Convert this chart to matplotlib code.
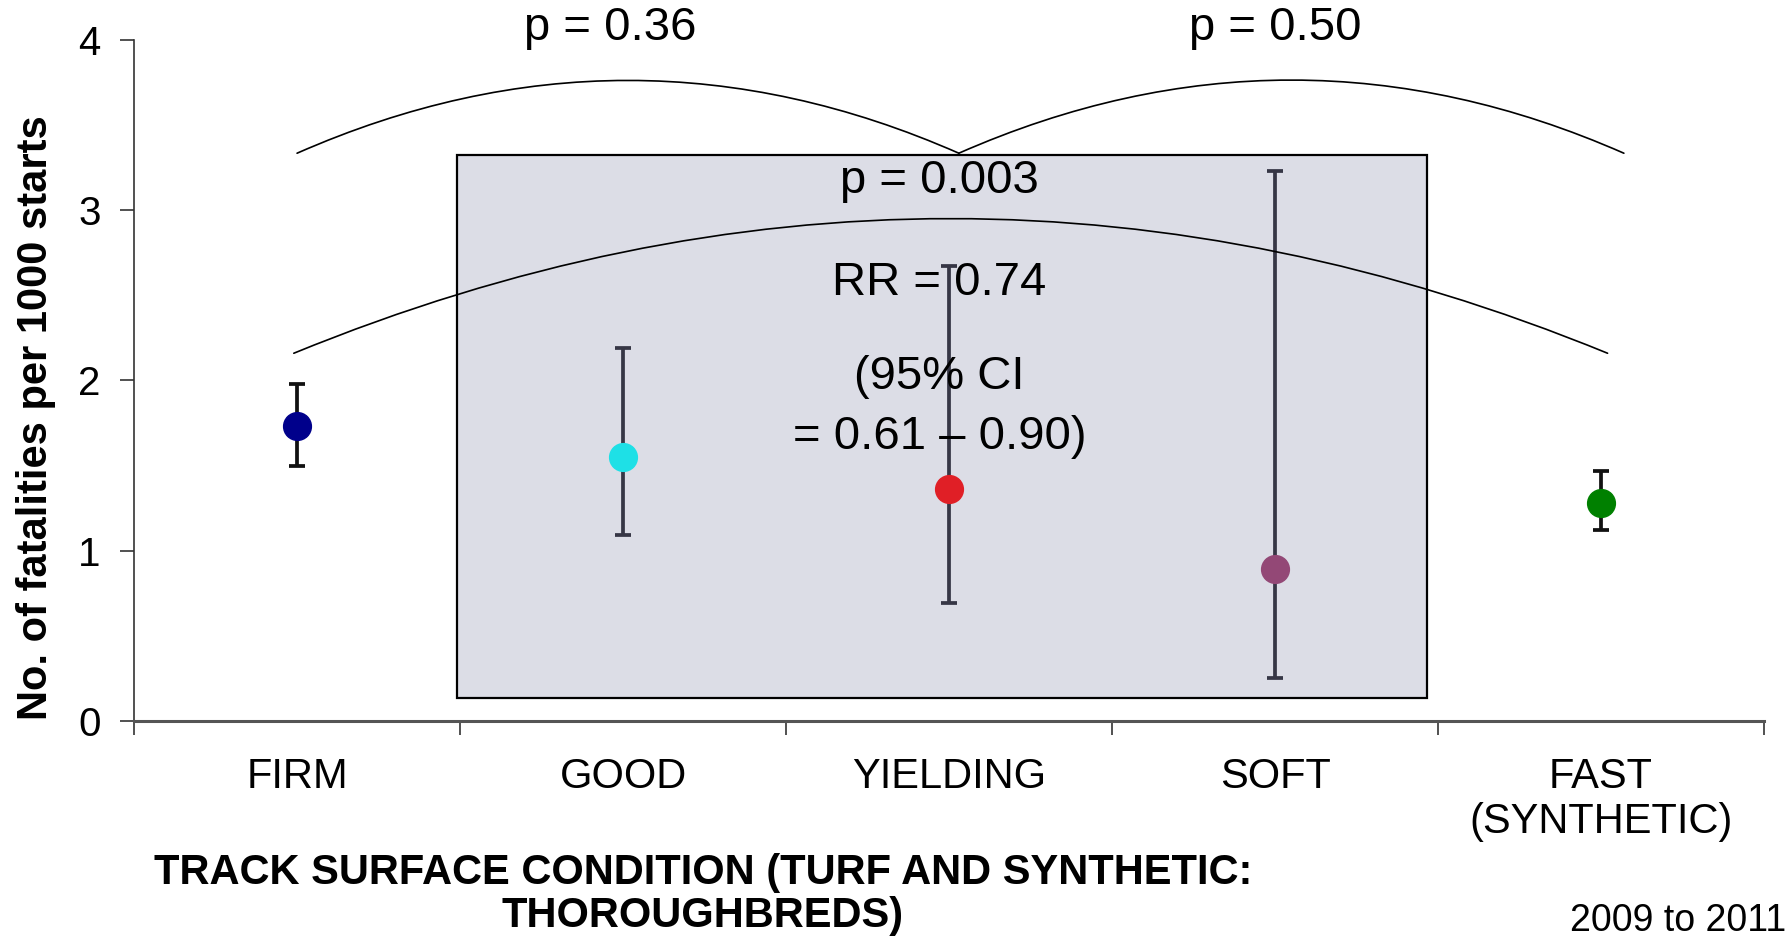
import numpy as np
import matplotlib
matplotlib.use("Agg")
import matplotlib.pyplot as plt
from matplotlib.patches import Rectangle

plt.rcParams['font.family'] = ['Liberation Sans', 'DejaVu Sans']

# data
Conditions = ["FIRM", "GOOD", "YIELDING", "SOFT", "FAST\n(SYNTHETIC)"]
Rates = [1.73, 1.55, 1.36, 0.89, 1.28]
CiLow = [1.50, 1.09, 0.69, 0.25, 1.12]
CiHigh = [1.98, 2.19, 2.67, 3.23, 1.47]
PointColours = ["#00008b", "#1ee0e6", "#e01f26", "#934876", "#008000"]
BarColours = ["#111111", "#363645", "#363645", "#363645", "#111111"]

# comparisons: (start, end, height at ends, label, label x, label y, curvature)
Brackets = [(0.0, 2.03, 3.335, "p = 0.36", 0.96, 4.07, -0.22),
            (2.03, 4.07, 3.335, "p = 0.50", 3.0, 4.07, -0.22),
            (-0.01, 4.02, 2.16, "p = 0.003", 1.97, 3.17, -0.205)]
RRText = ["RR = 0.74", "(95% CI", "= 0.61 \u2013 0.90)"]
RRy = [2.57, 2.02, 1.67]

fig = plt.figure(figsize=(17.9, 9.39), dpi=100)
ax = fig.add_axes([0.0749, 0.2322, 0.9106, 0.7252])

# shaded group box (GOOD..SOFT)
ax.add_patch(Rectangle((0.49, 0.135), 3.466 - 0.49, 3.326 - 0.135,
                       facecolor="#dcdde6", edgecolor="black", lw=1.6, zorder=1))

X = np.arange(len(Conditions))
for i in range(len(X)):
    err = [[Rates[i] - CiLow[i]], [CiHigh[i] - Rates[i]]]
    ax.errorbar(X[i], Rates[i], yerr=err, fmt="none", ecolor=BarColours[i],
                elinewidth=2.7, capsize=6, capthick=2.7, zorder=3)
    ax.plot(X[i], Rates[i], "o", color=PointColours[i], markersize=20, zorder=4)

for (x0, x1, yb, lab, lx, ly, rad) in Brackets:
    ax.annotate("", xy=(x1, yb), xytext=(x0, yb),
                arrowprops=dict(arrowstyle="-", color="black", lw=1.2,
                                connectionstyle="arc3,rad=%s" % rad,
                                shrinkA=0, shrinkB=0), zorder=5)
    ax.text(lx, ly, lab, fontsize=34, ha="center", va="center", zorder=6)

for t, yy in zip(RRText, RRy):
    ax.text(1.97, yy, t, fontsize=34, ha="center", va="center", zorder=6)

ax.set_xlim(-0.5, 4.5)
ax.set_ylim(0, 4)
ax.set_yticks([0, 1, 2, 3, 4])
ax.set_xticks(np.arange(-0.5, 5, 1))
ax.set_xticklabels([])
ax.set_xticks(X, minor=True)
ax.set_xticklabels(Conditions, minor=True)
for lbl in ax.get_xticklabels(minor=True):
    lbl.set_linespacing(1.15)
ax.tick_params(axis="x", which="major", length=10, width=1.2, color="#333333")
ax.tick_params(axis="x", which="minor", length=0, pad=26, labelsize=30)
ax.tick_params(axis="y", length=10, width=1.2, color="#333333", pad=14, labelsize=29)

ax.spines["top"].set_visible(False)
ax.spines["right"].set_visible(False)
ax.spines["left"].set_color("#333333")
ax.spines["left"].set_linewidth(1.2)
ax.spines["bottom"].set_color("#555555")
ax.spines["bottom"].set_linewidth(2.2)

ax.set_ylabel("No. of fatalities per 1000 starts", fontsize=30, fontweight="bold")
ax.yaxis.set_label_coords(-0.048, 0.445)

fig.text(703 / 1790, 0.047, "TRACK SURFACE CONDITION (TURF AND SYNTHETIC:\nTHOROUGHBREDS)",
         fontsize=30, fontweight="bold", ha="center", va="center", linespacing=1.1)
fig.text(0.998, 0.019, "2009 to 2011", fontsize=27, ha="right", va="center")

fig.savefig("out.png", dpi=100)
